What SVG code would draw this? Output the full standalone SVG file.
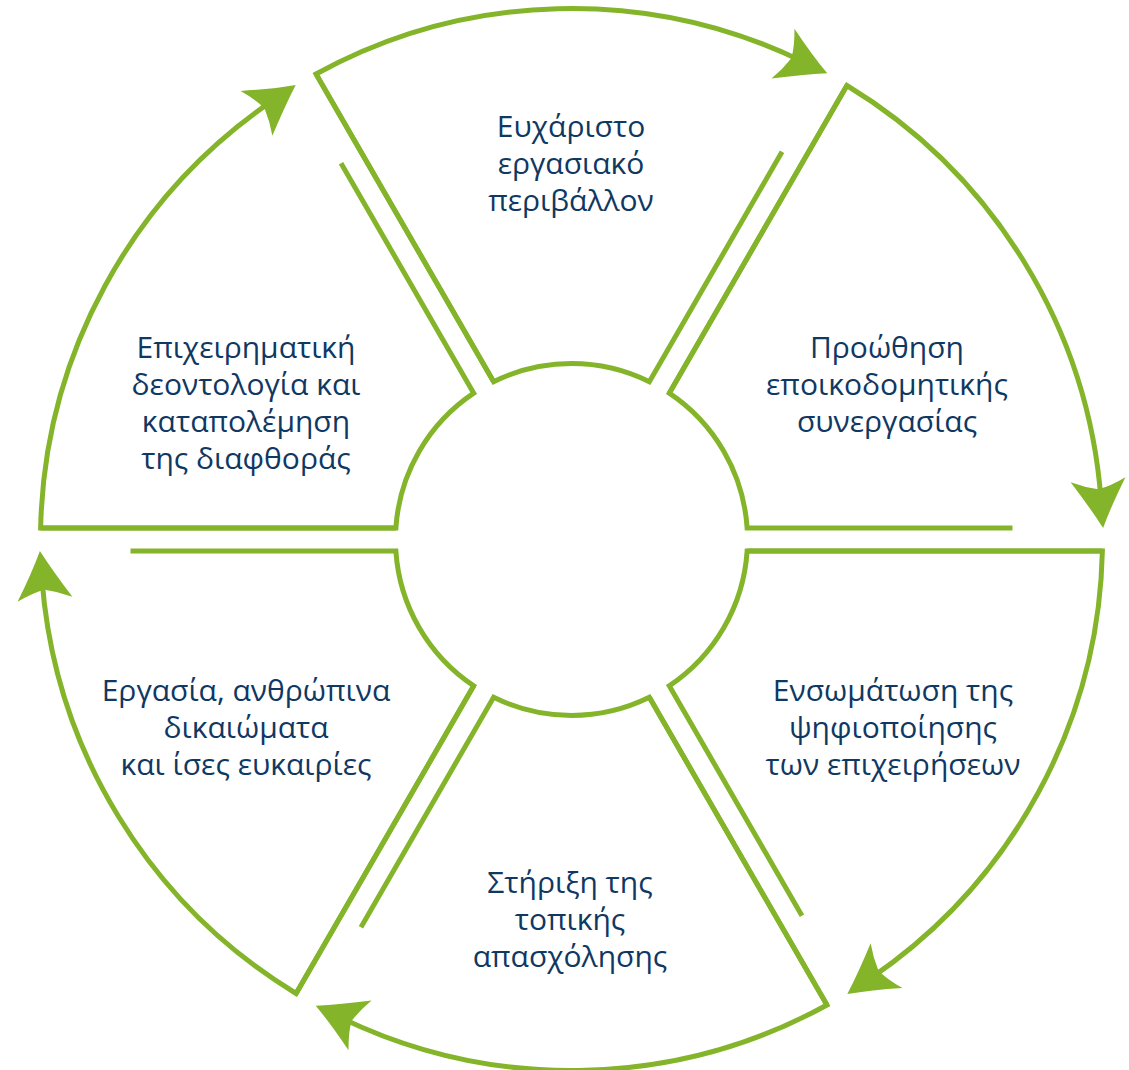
<svg xmlns="http://www.w3.org/2000/svg" width="1129" height="1070" viewBox="0 0 1129 1070">
<style>
.seg{fill:none;stroke:#84b42a;stroke-width:5;stroke-linejoin:miter;stroke-miterlimit:10;stroke-linecap:butt}
.arc{fill:none;stroke:#84b42a;stroke-width:5;stroke-linejoin:miter;stroke-miterlimit:10;marker-end:url(#ah)}
.lbl{font-family:"Open Sans","Noto Sans","Liberation Sans",sans-serif;font-size:30px;font-weight:500;fill:#0f3862;text-anchor:middle}
</style>
<defs>
<marker id="ah" markerUnits="userSpaceOnUse" orient="auto" refX="0" refY="0" markerWidth="120" markerHeight="120" viewBox="-60 -60 120 120" overflow="visible">
<path d="M28,0 Q6,-10 -21,-26 Q-13,-10 -11,2 Q-14,16 -20,29 Q6,12 28,0 Z" fill="#84b42a"/>
</marker>
</defs>
<rect width="1129" height="1070" fill="#ffffff"/>
<g id="node-top">
<path class="seg" d="M782.04,151.83 L649.35,381.66 A176,176 0 0 0 493.65,381.66 L316.02,74"/>
<text class="lbl"><tspan x="571" y="137">Ευχάριστο</tspan><tspan x="571" y="174">εργασιακό</tspan><tspan x="571" y="211">περιβάλλον</tspan></text>
</g>
<g id="node-right-top">
<path class="seg" d="M1012.5,528 L747.12,528 A176,176 0 0 0 669.27,393.16 L846.9,85.5"/>
<text class="lbl"><tspan x="887" y="358">Προώθηση</tspan><tspan x="887" y="395">εποικοδομητικής</tspan><tspan x="887" y="432">συνεργασίας</tspan></text>
</g>
<g id="node-right-bottom">
<path class="seg" d="M801.96,915.67 L669.27,685.85 A176,176 0 0 0 747.12,551 L1102.38,551"/>
<text class="lbl"><tspan x="893" y="701">Ενσωμάτωση της</tspan><tspan x="893" y="738">ψηφιοποίησης</tspan><tspan x="893" y="775">των επιχειρήσεων</tspan></text>
</g>
<g id="node-bottom">
<path class="seg" d="M360.96,927.17 L493.65,697.35 A176,176 0 0 0 649.35,697.35 L826.98,1005"/>
<text class="lbl"><tspan x="570" y="893">Στήριξη της</tspan><tspan x="570" y="930">τοπικής</tspan><tspan x="570" y="967">απασχόλησης</tspan></text>
</g>
<g id="node-left-bottom">
<path class="seg" d="M130.5,551 L395.88,551 A176,176 0 0 0 473.73,685.85 L296.1,993.5"/>
<text class="lbl"><tspan x="246" y="701">Εργασία, ανθρώπινα</tspan><tspan x="246" y="738">δικαιώματα</tspan><tspan x="246" y="775">και ίσες ευκαιρίες</tspan></text>
</g>
<g id="node-left-top">
<path class="seg" d="M341.04,163.33 L473.73,393.16 A176,176 0 0 0 395.88,528 L40.63,528"/>
<text class="lbl"><tspan x="246" y="358">Επιχειρηματική</tspan><tspan x="246" y="395">δεοντολογία και</tspan><tspan x="246" y="432">καταπολέμηση</tspan><tspan x="246" y="469">της διαφθοράς</tspan></text>
</g>
<g id="connectors">
<path class="arc" d="M493.65,381.66 L316.02,74 A531,531 0 0 1 802.09,61.18"/>
<path class="arc" d="M669.27,393.16 L846.9,85.5 A531,531 0 0 1 1101.03,500.04"/>
<path class="arc" d="M747.12,551 L1102.38,551 A531,531 0 0 1 870.44,978.36"/>
<path class="arc" d="M649.35,697.35 L826.98,1005 A531,531 0 0 1 340.91,1017.82"/>
<path class="arc" d="M473.73,685.85 L296.1,993.5 A531,531 0 0 1 41.97,578.96"/>
<path class="arc" d="M395.88,528 L40.63,528 A531,531 0 0 1 272.56,100.64"/>
</g>
</svg>
